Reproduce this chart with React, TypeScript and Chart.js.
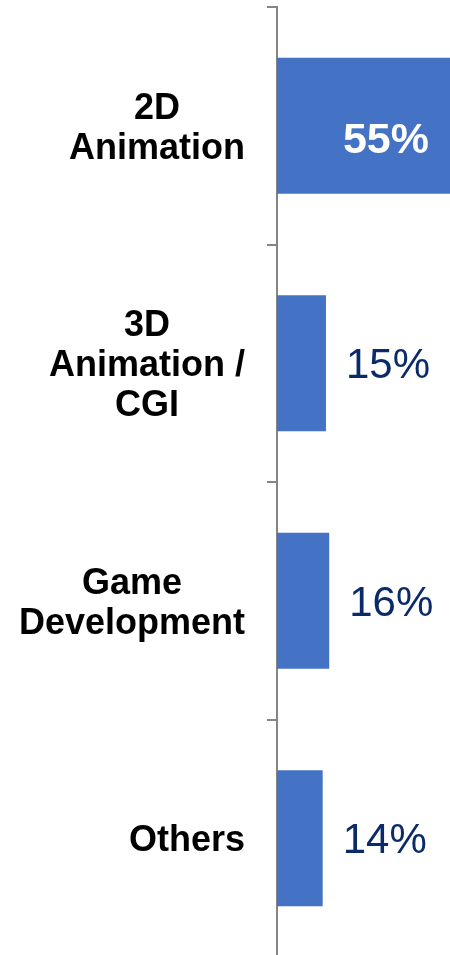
import React, { useEffect, useRef } from "react";
import { Chart, registerables } from "chart.js";

Chart.register(...registerables);

const categories: string[][] = [
  ["2D", "Animation"],
  ["3D", "Animation /", "CGI"],
  ["Game", "Development"],
  ["Others"],
];
const values: number[] = [55, 15, 16, 14];
const valueLabels: string[] = ["55%", "15%", "16%", "14%"];

const BAR_COLOR = "#4472C4";
const AXIS_COLOR = "#858585";
const NAVY = "#0B2A6A";
const FONT = '"Liberation Sans", Arial, sans-serif';

const labelPlugin = {
  id: "customLabels",
  afterDraw(chart: any) {
    const ctx = chart.ctx;
    const yScale = chart.scales.y;
    const area = chart.chartArea;
    ctx.save();
    // category labels: each block right-aligned, lines centred within block
    ctx.font = `bold 36px ${FONT}`;
    ctx.fillStyle = "#000000";
    ctx.textAlign = "center";
    ctx.textBaseline = "alphabetic";
    const lineH = 40;
    const capHalf = (36 * 0.716) / 2;
    const rightX = yScale.right - 32;
    categories.forEach((lines, i) => {
      const yc = yScale.getPixelForValue(i);
      const widest = Math.max(...lines.map((l) => ctx.measureText(l).width));
      const cx = rightX - widest / 2;
      lines.forEach((line, j) => {
        const cy = yc + (j - (lines.length - 1) / 2) * lineH;
        ctx.fillText(line, cx, cy + capHalf);
      });
    });
    // value labels
    const meta = chart.getDatasetMeta(0);
    meta.data.forEach((bar: any, i: number) => {
      const text = valueLabels[i];
      const barEnd = Math.min(bar.x, area.right);
      const yc = bar.y;
      ctx.font = `42px ${FONT}`;
      const w = ctx.measureText(text).width;
      if (barEnd + 20 + w > area.right) {
        ctx.font = `bold 43px ${FONT}`;
        ctx.fillStyle = "#FFFFFF";
        ctx.textAlign = "right";
        ctx.fillText(text, barEnd - 21, yc + (43 * 0.716) / 2 + 12);
      } else {
        ctx.fillStyle = NAVY;
        ctx.textAlign = "left";
        ctx.fillText(text, barEnd + 20, yc + (42 * 0.716) / 2);
      }
    });
    ctx.restore();
  },
};

export default function App() {
  const ref = useRef<HTMLCanvasElement>(null);
  useEffect(() => {
    if (!ref.current) return;
    const chart = new Chart(ref.current, {
      type: "bar",
      data: {
        labels: categories.map((c) => c.join(" ")),
        datasets: [
          {
            data: values,
            backgroundColor: BAR_COLOR,
            borderWidth: 0,
            barPercentage: 0.573,
            categoryPercentage: 1,
          },
        ],
      },
      options: {
        indexAxis: "y",
        animation: false,
        responsive: false,
        maintainAspectRatio: false,
        layout: { padding: { top: 7, bottom: 3, left: 0, right: 0 } },
        plugins: {
          legend: { display: false },
          tooltip: { enabled: false },
          title: { display: false },
        },
        scales: {
          x: {
            display: false,
            min: 0,
            max: 53,
          },
          y: {
            type: "category",
            offset: true,
            grid: {
              offset: true,
              drawOnChartArea: false,
              drawTicks: true,
              tickLength: 10,
              lineWidth: 2,
              tickWidth: 2,
              tickColor: AXIS_COLOR,
              color: AXIS_COLOR,
            },
            border: { display: true, color: AXIS_COLOR, width: 2 },
            ticks: { display: false },
            afterFit: (scale: any) => {
              scale.width = 277;
            },
          },
        },
      },
      plugins: [labelPlugin],
    });
    return () => chart.destroy();
  }, []);
  return (
    <div style={{ position: "absolute", left: 0, top: 0, width: 450, height: 960, background: "#fff" }}>
      <canvas ref={ref} width={450} height={960} style={{ display: "block" }} />
    </div>
  );
}
